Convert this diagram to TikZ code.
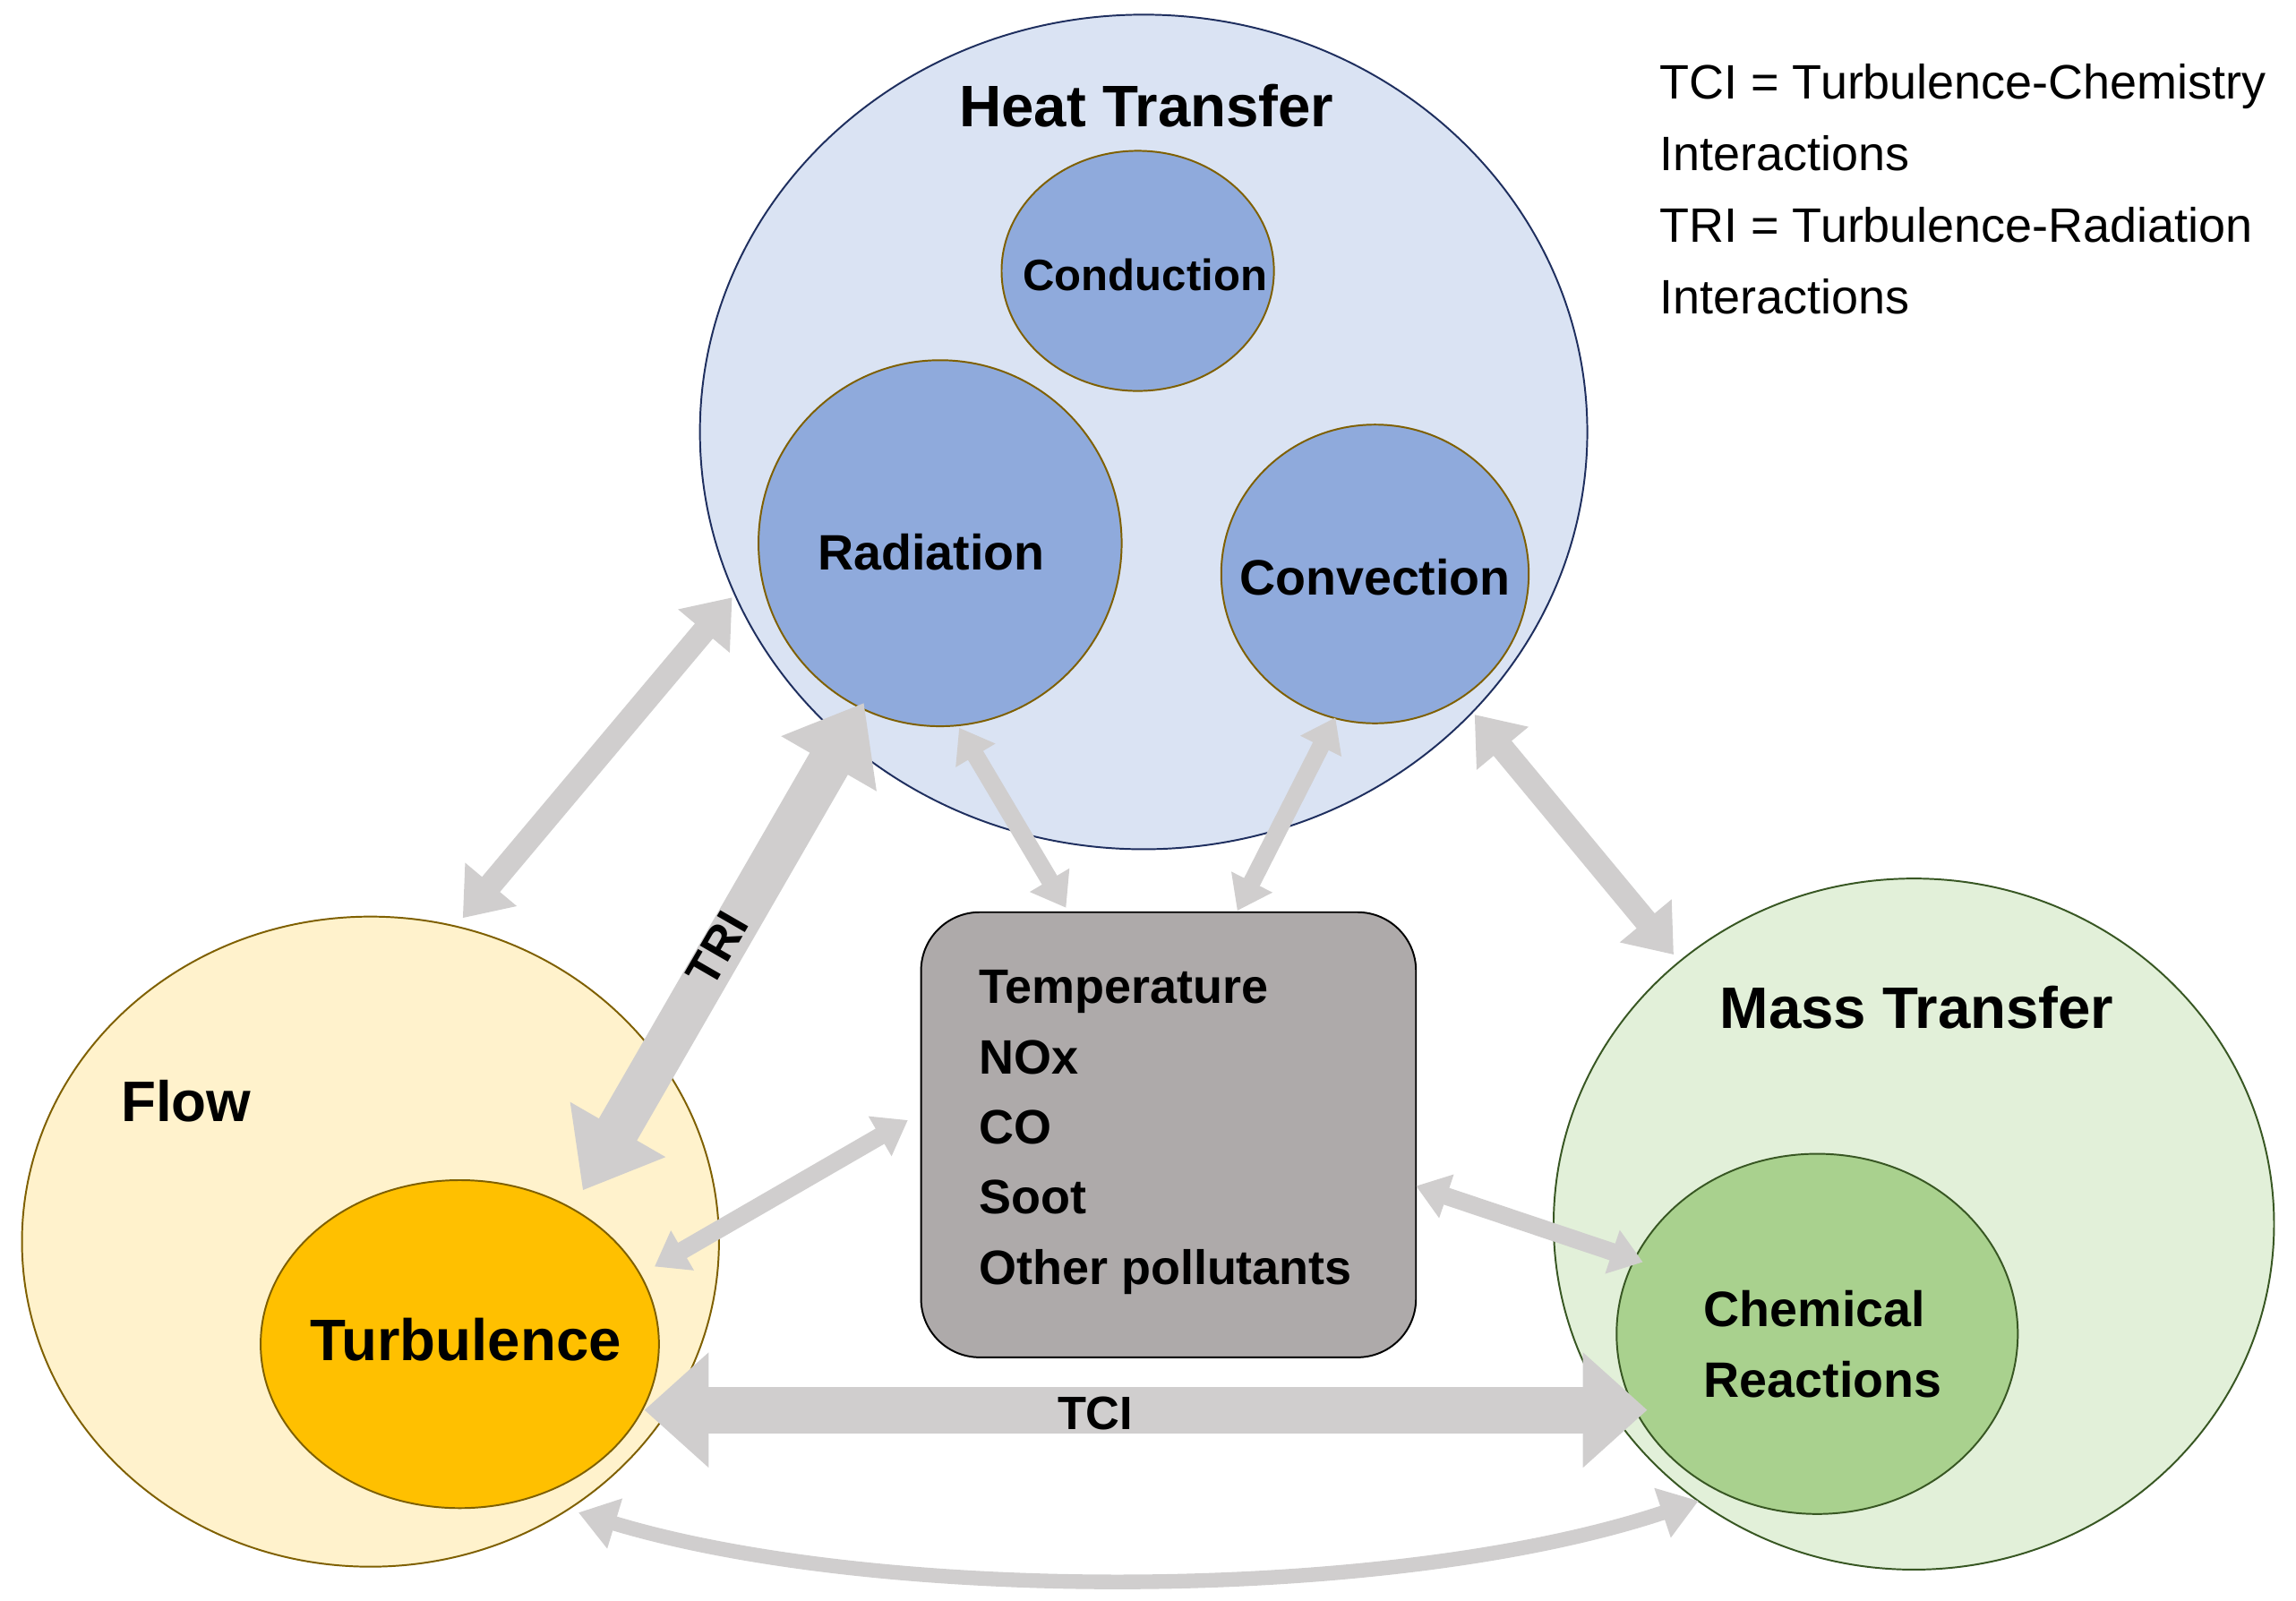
\documentclass[tikz,border=0pt]{standalone}
\usepackage{fontspec}
\setmainfont{Liberation Sans}
\usetikzlibrary{arrows.meta,shapes.geometric}
\definecolor{hbg}{HTML}{DAE3F3}
\definecolor{hin}{HTML}{8FAADC}
\definecolor{navy}{HTML}{1F2F5F}
\definecolor{brn}{HTML}{7F6000}
\definecolor{fbg}{HTML}{FFF2CC}
\definecolor{tur}{HTML}{FFC000}
\definecolor{mbg}{HTML}{E2F0D9}
\definecolor{mch}{HTML}{A9D18E}
\definecolor{grn}{HTML}{385723}
\definecolor{boxc}{HTML}{AEAAAA}
\definecolor{arr}{HTML}{D0CECE}
\tikzset{
 lab/.style={font=\fontsize{#1}{#1}\selectfont\bfseries},
 ar/.style={draw=arr,line width=#1},
 tip/.style 2 args={arrows={Triangle[width=#1,length=#2]-Triangle[width=#1,length=#2]}},
}
\begin{document}
\begin{tikzpicture}[x=1pt,y=-1pt]
\useasboundingbox (0,0) rectangle (1568,1093);
% ellipses
\draw[navy,fill=hbg,line width=1.2pt] (781,295) ellipse [x radius=303,y radius=285];
\node[lab=40] (heat) at (783,72) {Heat Transfer};
\draw[brn,fill=hin,line width=1.2pt] (777,185) ellipse [x radius=93,y radius=82];
\node[lab=30] (cond) at (782,188) {Conduction};
\draw[brn,fill=hin,line width=1.2pt] (642,371) ellipse [x radius=124,y radius=125];
\node[lab=34] (rad) at (636,377) {Radiation};
\draw[brn,fill=hin,line width=1.2pt] (939,392) ellipse [x radius=105,y radius=102];
\node[lab=34] (conv) at (939,394) {Convection};
\draw[brn,fill=fbg,line width=1.2pt] (253,848) ellipse [x radius=238,y radius=222];
\node[lab=39] (flow) at (127,752) {Flow};
\draw[brn,fill=tur,line width=1.2pt] (314,918) ellipse [x radius=136,y radius=112];
\node[lab=40] (turb) at (318,915) {Turbulence};
\draw[grn,fill=mbg,line width=1.2pt] (1307,836) ellipse [x radius=246,y radius=236];
\node[lab=40] (mass) at (1309,688) {Mass Transfer};
\draw[grn,fill=mch,line width=1.2pt] (1241,911) ellipse [x radius=137,y radius=123];
\node[lab=34,align=left,anchor=west] (chem) at (1160,918) {Chemical\\[14pt]Reactions};
% box
\draw[black,fill=boxc,line width=1.2pt,rounded corners=40pt] (629,623) rectangle (967,927);
\node[lab=33,align=left,anchor=north west] (box) at (665,659) {Temperature\\[15pt]NOx\\[15pt]CO\\[15pt]Soot\\[15pt]Other pollutants};
% legend
\node[font=\fontsize{33}{49}\selectfont,align=left,anchor=north west] (leg) at (1130,40) {TCI = Turbulence-Chemistry\\Interactions\\TRI = Turbulence-Radiation\\Interactions};
% arrow endpoints
\coordinate (a1) at (500,408); \coordinate (a2) at (316,627);
\coordinate (t1) at (590,480); \coordinate (t2) at (398,813);
\coordinate (r1) at (655,497); \coordinate (r2) at (728,620);
\coordinate (c1) at (912,490); \coordinate (c2) at (845,622);
\coordinate (m1) at (1007,488); \coordinate (m2) at (1143,652);
\coordinate (b1) at (620,765); \coordinate (b2) at (447,865);
\coordinate (d1) at (967,810); \coordinate (d2) at (1122,862);
\coordinate (x1) at (440,963); \coordinate (x2) at (1125,963);
\coordinate (y1) at (395,1033); \coordinate (y2) at (1160,1025);
% arrows
\draw[ar=16pt,tip={44pt}{30pt}] (a1) -- (a2);
\draw[ar=30pt,tip={72pt}{48pt}] (t1) -- (t2);
\node[lab=32,rotate=60] (tri) at (490,648) {TRI};
\draw[ar=12pt,tip={30pt}{22pt}] (r1) -- (r2);
\draw[ar=12pt,tip={30pt}{22pt}] (c1) -- (c2);
\draw[ar=16pt,tip={44pt}{30pt}] (m1) -- (m2);
\draw[ar=12pt,tip={30pt}{22pt}] (b1) -- (b2);
\draw[ar=12pt,tip={30pt}{22pt}] (d1) -- (d2);
\draw[ar=32pt,tip={76pt}{44pt}] (x1) -- (x2);
\node[lab=32] (tci) at (748,965) {TCI};
\draw[ar=10pt,tip={34pt}{26pt}] (y1) .. controls (600,1095) and (950,1095) .. (y2);
\end{tikzpicture}
\end{document}
